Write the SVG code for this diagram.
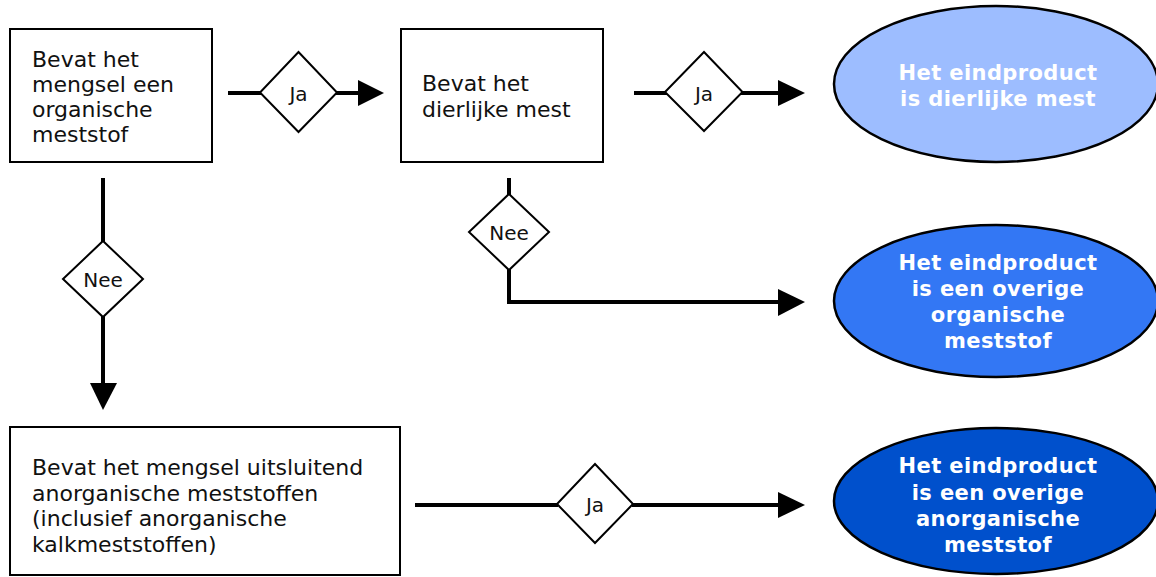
<svg xmlns="http://www.w3.org/2000/svg" width="1156" height="577" viewBox="0 0 1156 577">
<style>
.box{fill:#fff;stroke:#000;stroke-width:2}
.dia{fill:#fff;stroke:#000;stroke-width:2}
.t{font-family:"DejaVu Sans",Verdana,sans-serif;font-size:22px;fill:#111}
.lbl{font-family:"DejaVu Sans",Verdana,sans-serif;font-size:20px;fill:#111;text-anchor:middle}
.et{font-family:"DejaVu Sans",Verdana,sans-serif;font-size:21px;font-weight:bold;fill:#fff;text-anchor:middle;letter-spacing:0.4px}
.ell{stroke:#000;stroke-width:2.5}
.ln{fill:none;stroke:#000;stroke-width:4}
.ah{fill:#000}
</style>
<rect width="1156" height="577" fill="#fff"/>
<g id="connectors">
<line class="ln" x1="228" y1="93" x2="262" y2="93"/>
<line class="ln" x1="336" y1="93" x2="360" y2="93"/>
<polygon class="ah" points="358,80 384,93 358,106"/>
<line class="ln" x1="634" y1="93" x2="667" y2="93"/>
<line class="ln" x1="741" y1="93" x2="780" y2="93"/>
<polygon class="ah" points="778,80 805,93 778,106"/>
<line class="ln" x1="509" y1="178" x2="509" y2="196"/>
<polyline class="ln" points="509,268 509,302 780,302"/>
<polygon class="ah" points="778,289 805,302 778,316"/>
<line class="ln" x1="103" y1="178" x2="103" y2="243"/>
<line class="ln" x1="103" y1="315" x2="103" y2="385"/>
<polygon class="ah" points="90,383 117,383 103,410"/>
<line class="ln" x1="415" y1="505" x2="558" y2="505"/>
<line class="ln" x1="632" y1="505" x2="780" y2="505"/>
<polygon class="ah" points="778,492 805,505 778,518"/>
</g>
<g id="d1"><polygon class="dia" points="298.5,52 337,92.5 298.5,132 260,92.5"/><text class="lbl" x="298.5" y="101">Ja</text></g>
<g id="d2"><polygon class="dia" points="704,52 742.5,92 704,131 665,92"/><text class="lbl" x="704" y="100.5">Ja</text></g>
<g id="d3"><polygon class="dia" points="509,194 549,232 509,270 469,232"/><text class="lbl" x="509" y="240">Nee</text></g>
<g id="d4"><polygon class="dia" points="103,241 143,279 103,317 63,279"/><text class="lbl" x="103" y="287">Nee</text></g>
<g id="d5"><polygon class="dia" points="595,464 633,504 595,543 557,504"/><text class="lbl" x="595" y="512">Ja</text></g>
<g id="box1">
<rect class="box" x="10" y="29" width="202" height="133"/>
<text class="t" x="32" y="67">Bevat het</text>
<text class="t" x="32" y="92">mengsel een</text>
<text class="t" x="32" y="117">organische</text>
<text class="t" x="32" y="142">meststof</text>
</g>
<g id="box2">
<rect class="box" x="401" y="29" width="202" height="133"/>
<text class="t" x="422" y="91">Bevat het</text>
<text class="t" x="422" y="117">dierlijke mest</text>
</g>
<g id="box3">
<rect class="box" x="10" y="427" width="390" height="148"/>
<text class="t" x="32" y="475">Bevat het mengsel uitsluitend</text>
<text class="t" x="32" y="500.5">anorganische meststoffen</text>
<text class="t" x="32" y="526">(inclusief anorganische</text>
<text class="t" x="32" y="551.5">kalkmeststoffen)</text>
</g>
<g id="e1">
<ellipse class="ell" cx="996" cy="84" rx="162" ry="78" fill="#9dbdff"/>
<text class="et" x="998" y="80">Het eindproduct</text>
<text class="et" x="998" y="106">is dierlijke mest</text>
</g>
<g id="e2">
<ellipse class="ell" cx="996" cy="301" rx="162" ry="76" fill="#3377f4"/>
<text class="et" x="998" y="270">Het eindproduct</text>
<text class="et" x="998" y="296">is een overige</text>
<text class="et" x="998" y="322">organische</text>
<text class="et" x="998" y="348">meststof</text>
</g>
<g id="e3">
<ellipse class="ell" cx="996" cy="501" rx="162" ry="73" fill="#0050cc"/>
<text class="et" x="998" y="473">Het eindproduct</text>
<text class="et" x="998" y="500">is een overige</text>
<text class="et" x="998" y="526">anorganische</text>
<text class="et" x="998" y="552">meststof</text>
</g>
</svg>
